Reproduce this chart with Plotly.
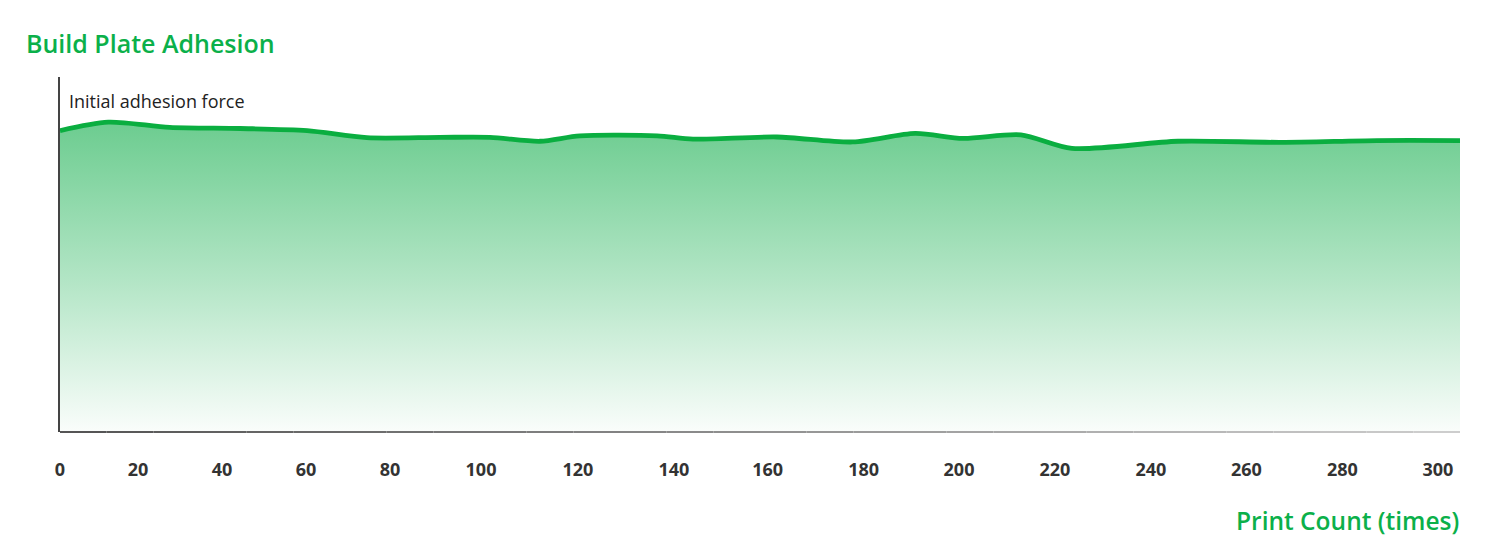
import plotly.graph_objects as go

# ---- data ----
print_count = [0, 10.5, 23.9, 39.2, 53.8, 66.8, 82.7, 93.6, 104.5, 113.2, 130.0, 137.8,
               156.1, 172.6, 186.2, 196.6, 209.2, 220.3, 243.4, 265.8, 286.7, 304.8]
adhesion = [84.9, 87.3, 85.8, 85.5, 84.9, 82.9, 83.0, 83.0, 81.9, 83.4, 83.4, 82.5,
            83.1, 81.7, 84.1, 82.7, 83.7, 79.9, 81.9, 81.6, 82.1, 82.1]
tick_labels = ["0", "20", "40", "60", "80", "100", "120", "140", "160", "180",
               "200", "220", "240", "260", "280", "300"]
tick_positions = [0, 16.98, 35.27, 53.56, 71.84, 91.66, 112.77, 133.67, 154.05,
                  174.95, 195.72, 216.62, 237.52, 258.31, 279.21, 300]

GREEN = "#0bb04a"
LINE_GREEN = "#0aae40"

fig = go.Figure()
fig.add_trace(go.Scatter(
    x=print_count, y=adhesion, mode="lines",
    line=dict(color=LINE_GREEN, width=4.8, shape="spline", smoothing=0.8),
    fill="tozeroy",
    fillgradient=dict(type="vertical",
                      colorscale=[[0, "rgb(250,253,251)"], [0.5, "rgb(178,229,197)"], [1, "rgb(110,205,145)"]],
                      start=0, stop=86),
    hoverinfo="skip", showlegend=False,
))

# gradient bottom axis line (dark at left, light at right)
n = 30
for i in range(n):
    t = i / (n - 1)
    g = int(85 + (205 - 85) * t)
    fig.add_shape(type="line", xref="paper", yref="paper",
                  x0=i / n, x1=(i + 1) / n, y0=0, y1=0,
                  line=dict(color=f"rgb({g},{g},{g})", width=2), layer="above")

fig.update_layout(
    width=1500, height=537,
    margin=dict(l=60, r=40, t=77, b=105),
    paper_bgcolor="white", plot_bgcolor="white",
    font=dict(family="Open Sans", color="#333"),
    xaxis=dict(range=[0, 304.8], tickvals=tick_positions, ticktext=tick_labels,
               showgrid=False, zeroline=False, showline=False,
               ticks="", ticklabelstandoff=25,
               tickfont=dict(family="Open Sans", size=18, color="#333", weight=700)),
    yaxis=dict(range=[0, 100], showgrid=False, zeroline=False, showticklabels=False,
               showline=True, linecolor="#444", linewidth=1.5, ticks=""),
    annotations=[
        dict(text="Build Plate Adhesion", xref="paper", yref="paper",
             x=(24 - 60) / 1400, y=(432 - 43) / 355, xanchor="left", yanchor="middle",
             showarrow=False, font=dict(family="Open Sans", size=25, color=GREEN, weight=600)),
        dict(text="Initial adhesion force", xref="paper", yref="paper",
             x=(67 - 60) / 1400, y=(432 - 101) / 355, xanchor="left", yanchor="middle",
             showarrow=False, font=dict(family="Open Sans", size=18, color="#222")),
        dict(text="Print Count (times)", xref="paper", yref="paper",
             x=(1461 - 60) / 1400, y=(432 - 520) / 355, xanchor="right", yanchor="middle",
             showarrow=False, font=dict(family="Open Sans", size=24.5, color=GREEN, weight=600)),
    ],
)

fig.write_html("out.html", config={"displayModeBar": False},
               post_script="document.body.style.margin='0';")
